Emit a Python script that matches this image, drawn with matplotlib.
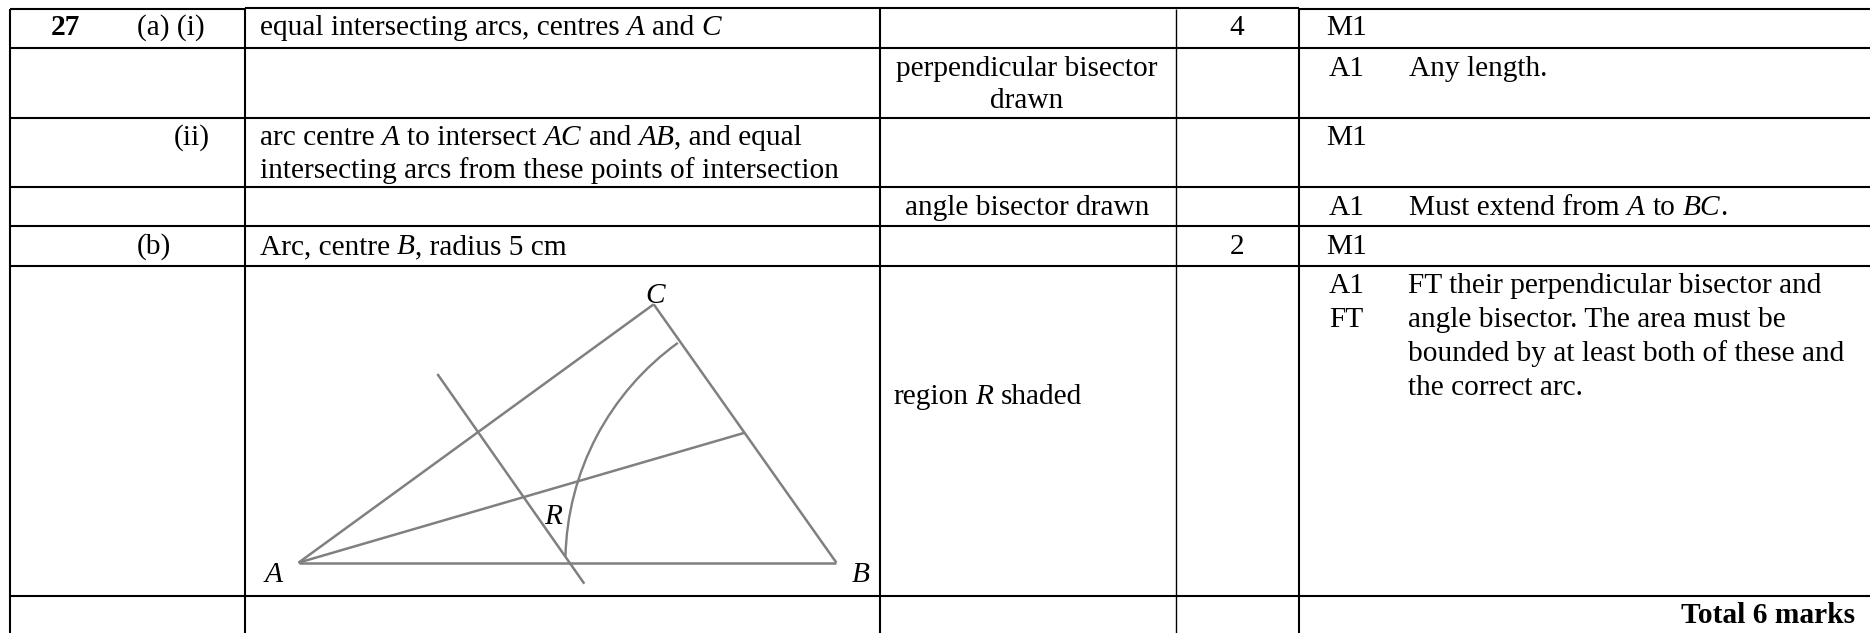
import numpy as np
import matplotlib
matplotlib.use("Agg")
import matplotlib.pyplot as plt
from matplotlib.patches import Arc

plt.rcParams['font.family'] = ['Liberation Serif']

W, H = 1870, 633
FS = 21.2

# table grid (pixel coordinates of the reference)
col_edges = [10, 245, 879.5, 1175.5, 1298.7]
row_edges = [47.7, 117.5, 186.7, 225.7, 265.7, 595.7]
top_rule = [(10, 245, 8.7), (245, 1298.7, 7.5), (1298.7, 1870, 9)]

# table text: (text, x, baseline y, horizontal align, weight); $..$ marks italic runs
question = [("27", 65, 35, "center", "bold")]
parts = [("(a) (i)", 136.6, 35, "left", "normal"),
         ("(ii)", 174, 145, "left", "normal"),
         ("(b)", 136.6, 254, "left", "normal")]
working = [("equal intersecting arcs, centres $A$ and $C$", 259.5, 35, "left", "normal"),
           ("arc centre $A$ to intersect $AC$ and $AB$, and equal", 259.5, 145, "left", "normal"),
           ("intersecting arcs from these points of intersection", 259.5, 178.3, "left", "normal"),
           ("Arc, centre $B$, radius 5 cm", 259.5, 254, "left", "normal")]
answers = [("perpendicular bisector", 1027, 76, "center", "normal"),
           ("drawn", 1027, 108, "center", "normal"),
           ("angle bisector drawn", 1027, 215, "center", "normal"),
           ("region $R$ shaded", 893, 404, "left", "normal")]
marks_col = [("4", 1236.7, 35, "center", "normal"),
             ("2", 1236.7, 254, "center", "normal")]
codes = [("M1", 1326, 35, "left", "normal"),
         ("A1", 1328.5, 76, "left", "normal"),
         ("M1", 1326, 145, "left", "normal"),
         ("A1", 1328.5, 215, "left", "normal"),
         ("M1", 1326, 254, "left", "normal"),
         ("A1", 1328.5, 292.7, "left", "normal"),
         ("FT", 1329.3, 326.7, "left", "normal")]
notes = [("Any length.", 1409, 76, "left", "normal"),
         ("Must extend from $A$ to $BC$.", 1409, 215, "left", "normal"),
         ("FT their perpendicular bisector and", 1408.5, 292.7, "left", "normal"),
         ("angle bisector. The area must be", 1408.5, 326.7, "left", "normal"),
         ("bounded by at least both of these and", 1408.5, 360.7, "left", "normal"),
         ("the correct arc.", 1408.5, 394.7, "left", "normal"),
         ("Total 6 marks", 1855.5, 623.3, "right", "bold")]

# diagram geometry
A = (298.5, 562.7)
B = (836.4, 562.7)
C = (653.7, 304.3)
perp_start = (437.4, 374)
perp_end = (584.3, 583.7)
bisector_end = (743.8, 433)
arc_radius = 271
arc_from_deg = 181.3
arc_to_deg = 234.2
diagram_labels = [("A", 273.7, 581.7), ("B", 860.8, 581.7), ("C", 655.4, 302.7), ("R", 552.7, 524.3)]

fig = plt.figure(figsize=(W / 100, H / 100), dpi=100)
ax = fig.add_axes([0, 0, 1, 1])
ax.set_xlim(0, W)
ax.set_ylim(H, 0)
ax.axis("off")
renderer = fig.canvas.get_renderer()

GREY = "#808080"
for pair in [(A, B), (B, C), (C, A), (perp_start, perp_end), (A, bisector_end)]:
    ax.plot([pair[0][0], pair[1][0]], [pair[0][1], pair[1][1]], color=GREY, lw=1.8,
            solid_capstyle="butt", zorder=2)
ax.add_patch(Arc(B, 2 * arc_radius, 2 * arc_radius, theta1=arc_from_deg, theta2=arc_to_deg,
                 color=GREY, lw=1.7, zorder=2))

for y in row_edges:
    ax.plot([col_edges[0], W], [y, y], color="black", lw=1.5, solid_capstyle="butt", zorder=3)
for x0, x1, y in top_rule:
    ax.plot([x0, x1], [y, y], color="black", lw=1.5, solid_capstyle="butt", zorder=3)
for i, x in enumerate(col_edges):
    lw = 1.0 if i == 3 else 1.5
    ax.plot([x, x], [top_rule[0][2], H], color="black", lw=lw, solid_capstyle="butt", zorder=3)


def advance(s, style, weight):
    """Pixel advance of a run, spaces included."""
    t = ax.text(0, 0, "|" + s + "|", fontsize=FS, style=style, fontweight=weight)
    w = t.get_window_extent(renderer).width
    t.set_text("||")
    w -= t.get_window_extent(renderer).width
    t.remove()
    return w


def rich_text(s, x, y, ha, weight):
    runs = [(run, "italic" if i % 2 else "normal") for i, run in enumerate(s.split("$")) if run]
    total = sum(advance(r, st, weight) for r, st in runs)
    pen = x - (total / 2 if ha == "center" else total if ha == "right" else 0)
    for run, style in runs:
        lead = len(run) - len(run.lstrip(" "))
        ax.text(pen + advance(" " * lead, style, weight) if lead else pen, y, run.strip(" "),
                ha="left", va="baseline", fontsize=FS, style=style, fontweight=weight,
                color="black", zorder=4)
        pen += advance(run, style, weight)


for group in (question, parts, working, answers, marks_col, codes, notes):
    for s, x, y, ha, weight in group:
        rich_text(s, x, y, ha, weight)
for s, x, y in diagram_labels:
    ax.text(x, y, s, ha="center", va="baseline", fontsize=FS, style="italic", color="black", zorder=4)

fig.savefig("out.png", dpi=100)
